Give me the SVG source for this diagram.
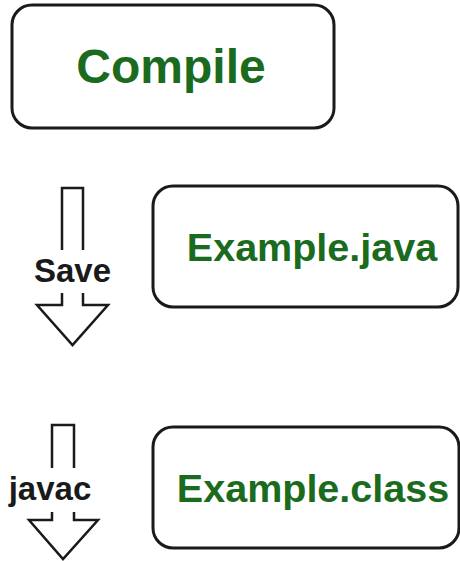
<svg xmlns="http://www.w3.org/2000/svg" width="460" height="561" viewBox="0 0 460 561">
<style>
.box{fill:#fff;stroke:#1a1a1a;stroke-width:3}
.lbl{font-family:"Liberation Sans",Arial,sans-serif;font-weight:bold;fill:#1b6b1f;text-anchor:middle}
.arr{fill:none;stroke:#1a1a1a;stroke-width:2.5;stroke-linejoin:miter}
.al{font-family:"Liberation Sans",Arial,sans-serif;font-weight:bold;fill:#1a1a1a;text-anchor:middle;font-size:33px}
</style>
<rect width="460" height="561" fill="#fff"/>
<g id="compile">
<rect class="box" x="12" y="5" width="322" height="123" rx="20"/>
<text class="lbl" x="171" y="83" font-size="48">Compile</text>
</g>
<g id="example-java">
<rect class="box" x="153" y="186" width="305" height="121" rx="20"/>
<text class="lbl" x="312" y="261" font-size="39.5">Example.java</text>
</g>
<g id="example-class">
<rect class="box" x="153" y="427" width="306" height="121" rx="20"/>
<text class="lbl" x="313" y="502" font-size="39.5">Example.class</text>
</g>
<g id="connectors">
<g id="save-arrow">
<path class="arr" d="M62,250 V188 H83 V250"/>
<path class="arr" d="M62,293 V305 H37 L72.5,345 L108,305 H83 V293"/>
<text class="al" x="72.5" y="282">Save</text>
</g>
<g id="javac-arrow">
<path class="arr" d="M52,468 V425 H74 V468"/>
<path class="arr" d="M52,512 V520 H29 L63,559 L98,520 H74 V512"/>
<text class="al" x="50" y="500">javac</text>
</g>
</g>
</svg>
